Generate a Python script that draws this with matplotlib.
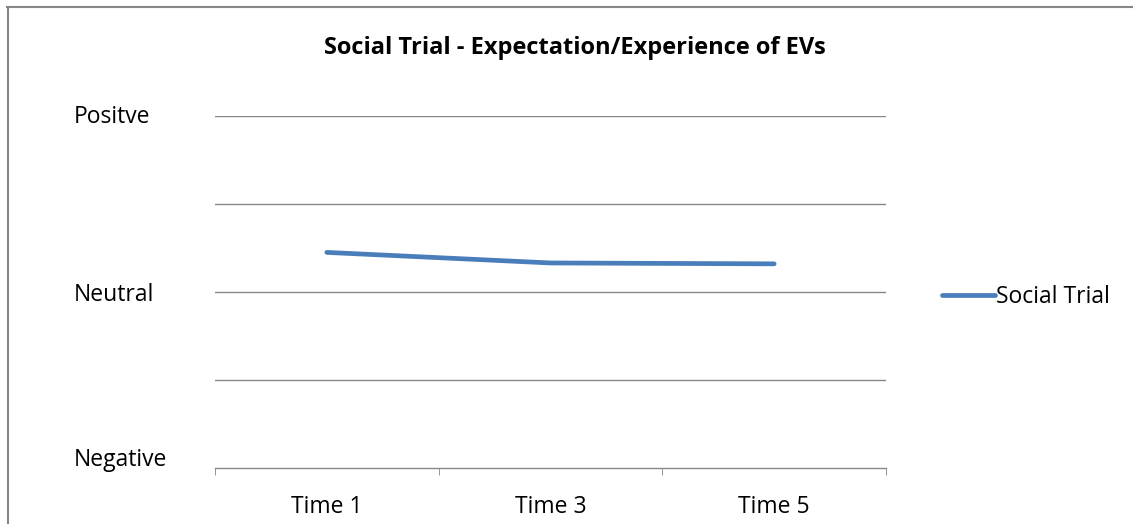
import matplotlib
matplotlib.use('Agg')
import matplotlib.pyplot as plt
from matplotlib.lines import Line2D
from matplotlib.transforms import ScaledTranslation

plt.rcParams['font.family'] = ['Open Sans', 'DejaVu Sans']

times = ['Time 1', 'Time 3', 'Time 5']
social_trial = [3.45, 3.33, 3.32]
level_ticks = [1, 3, 5]
level_labels = ['Negative', 'Neutral', 'Positve']

grey = '#868686'
blue = '#4A7EBB'
fs = 16.5

fig = plt.figure(figsize=(11.33, 5.24), dpi=100)
ax = fig.add_axes([215 / 1133, 56 / 524, 671 / 1133, 352 / 524])

x = range(len(times))
ax.plot(x, social_trial, color=blue, lw=3.4, solid_capstyle='round', label='Social Trial')

ax.set_xlim(-0.5, len(times) - 0.5)
ax.set_ylim(1, 5)
for v in [2, 3, 4, 5]:
    ax.axhline(v, color=grey, lw=1, zorder=0)

for s in ['top', 'right', 'left']:
    ax.spines[s].set_visible(False)
ax.spines['bottom'].set_color(grey)
ax.spines['bottom'].set_linewidth(1)

ax.set_xticks(list(x))
ax.set_xticklabels(times, fontsize=fs)
ax.set_xticks([i - 0.5 for i in range(len(times) + 1)], minor=True)
ax.tick_params(axis='x', which='major', length=0, pad=19.5)
ax.tick_params(axis='x', which='minor', length=5, color=grey, direction='out')

ax.set_yticks(level_ticks)
ax.set_yticklabels(level_labels, fontsize=fs, ha='left')
ax.tick_params(axis='y', length=0, pad=141 * 0.72)
# Excel nudges the bottom label up off the axis line
lab = ax.yaxis.get_major_ticks()[0].label1
lab.set_transform(lab.get_transform() + ScaledTranslation(0, 11 / 100, fig.dpi_scale_trans))
top = ax.yaxis.get_major_ticks()[2].label1
top.set_transform(top.get_transform() + ScaledTranslation(0, 2 / 100, fig.dpi_scale_trans))

fig.text(575 / 1133, 1 - 48 / 524, 'Social Trial - Expectation/Experience of EVs',
         ha='center', va='center', fontsize=17, fontweight='bold')

handle = Line2D([], [], color=blue, lw=3.4, solid_capstyle='round')
fig.legend([handle], ['Social Trial'], loc='center left',
           bbox_to_anchor=(942 / 1133, 1 - 297 / 524), frameon=False,
           fontsize=fs, handlelength=2.3, handletextpad=0.05,
           borderpad=0, borderaxespad=0)

fig.add_artist(Line2D([7 / 1133, 1], [1 - 7 / 524, 1 - 7 / 524], color=grey, lw=1.5))
fig.add_artist(Line2D([8 / 1133, 8 / 1133], [0, 1 - 7 / 524], color=grey, lw=1.5))

fig.savefig('out.png', dpi=100)
